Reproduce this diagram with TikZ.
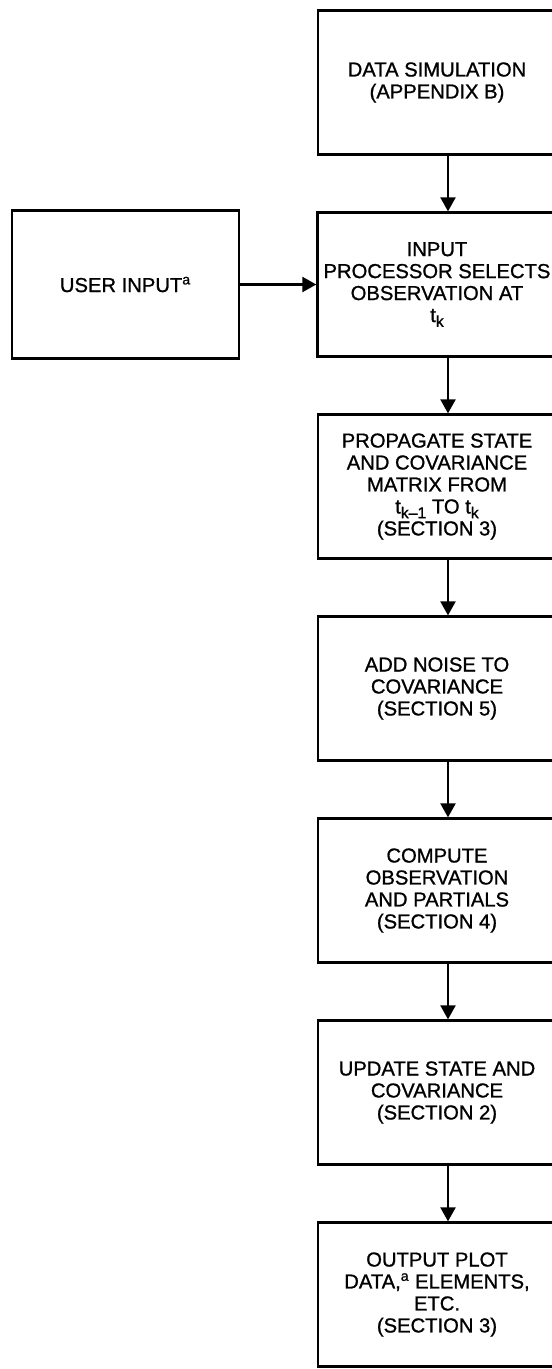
\documentclass[tikz,border=0pt]{standalone}
\usepackage{fontspec}
\setmainfont{Liberation Sans}
\newfontfamily\boxfont{Liberation Sans}[FakeBold=1,Ligatures=TeX]
\usetikzlibrary{arrows.meta}

\newcommand{\tsub}[1]{t\raisebox{-0.45ex}{\small #1}}

\begin{document}
\begin{tikzpicture}[
            node distance=4.04cm,
            box/.style={rectangle, draw, line width=1.6pt, minimum width=4.76cm, minimum height=2.87cm, align=center, font=\boxfont\fontsize{11.5}{12.5}\selectfont},
            arrow/.style={-{Triangle[width=0.3cm,length=0.28cm]}, line width=1.3pt}
        ]

        \useasboundingbox (0,0) rectangle (11.04,-27.38);

        % Main process boxes
        \node[box] (datasim) at (8.74,-1.65) {DATA SIMULATION\\(APPENDIX B)};
        \node[box, below of=datasim] (input) {INPUT\\PROCESSOR SELECTS\\OBSERVATION AT\\\tsub{k}};
        \node[box, below of=input] (propagate) {PROPAGATE STATE\\AND COVARIANCE\\MATRIX FROM\\\tsub{k\textendash 1} TO \tsub{k}\\(SECTION 3)};
        \node[box, below of=propagate] (noise) {ADD NOISE TO\\COVARIANCE\\(SECTION 5)};
        \node[box, below of=noise] (compute) {COMPUTE\\OBSERVATION\\AND PARTIALS\\(SECTION 4)};
        \node[box, below of=compute] (update) {UPDATE STATE AND\\COVARIANCE\\(SECTION 2)};
        \node[box, below of=update] (output) {OUTPUT PLOT\\DATA,\textsuperscript{a} ELEMENTS,\\ETC.\\(SECTION 3)};

        % Side input
        \node[box, minimum width=4.54cm, minimum height=2.96cm, left of=input, node distance=6.23cm] (user) {USER INPUT\textsuperscript{a}};

        % Arrows between boxes
        \draw[arrow] ([xshift=0.22cm]datasim.south) -- ([xshift=0.22cm]input.north);
        \draw[arrow] ([xshift=0.22cm]input.south) -- ([xshift=0.22cm]propagate.north);
        \draw[arrow] ([xshift=0.22cm]propagate.south) -- ([xshift=0.22cm]noise.north);
        \draw[arrow] ([xshift=0.22cm]noise.south) -- ([xshift=0.22cm]compute.north);
        \draw[arrow] ([xshift=0.22cm]compute.south) -- ([xshift=0.22cm]update.north);
        \draw[arrow] ([xshift=0.22cm]update.south) -- ([xshift=0.22cm]output.north);
        \draw[arrow] (user) -- (input);

    \end{tikzpicture}
\end{document}
